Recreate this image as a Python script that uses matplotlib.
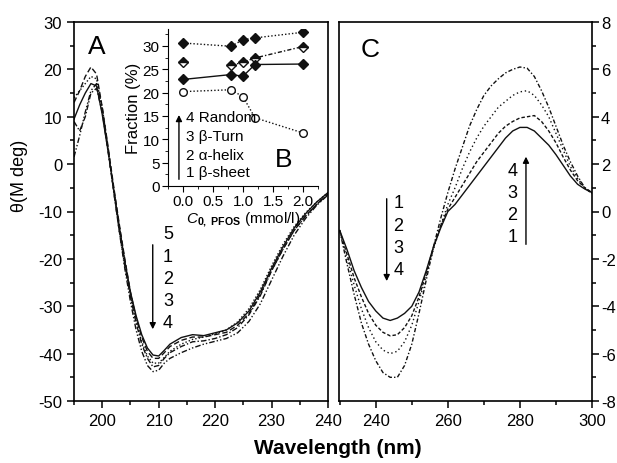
import matplotlib
matplotlib.use("Agg")
import matplotlib.pyplot as plt
from matplotlib.ticker import MultipleLocator

plt.rcParams['font.family'] = ['Liberation Sans', 'DejaVu Sans']
plt.rcParams['mathtext.fontset'] = 'custom'
plt.rcParams['mathtext.rm'] = 'Liberation Sans'
plt.rcParams['mathtext.it'] = 'Liberation Sans:italic'
plt.rcParams['mathtext.bf'] = 'Liberation Sans:bold'
plt.rcParams['axes.unicode_minus'] = False

# panel A: far-UV CD spectra
wl_a = [195, 196, 197, 198, 199, 200, 201, 202, 203, 204, 205, 206, 207, 208, 209, 210,
        211, 212, 214, 216, 218, 220, 222, 224, 226, 228, 230, 232, 234, 236, 238, 240]
a_5 = [9.5, 12.5, 15, 17, 16.5, 10.5, 3, -5, -13, -20.5, -27, -32, -36, -38.8, -40.3, -40.5,
       -39.3, -38, -36.6, -36, -36.2, -35.6, -35, -33.5, -31, -27, -22, -17.5, -13.5, -10.5, -8, -6]
a_1 = [13, 15.5, 18.5, 20.5, 19, 12, 4, -4.5, -12.5, -20, -27, -32.5, -36.5, -39.5, -41, -41,
       -39.8, -38.5, -37.2, -36.5, -36.5, -36, -35.5, -34, -31.5, -27.5, -22.5, -18, -14, -11, -8.5, -6.3]
a_2 = [14, 15.5, 17, 18.5, 18, 11.5, 3.5, -5, -13, -20.5, -27.5, -33, -37.5, -40.5, -42, -42,
       -40.8, -39.5, -38, -37, -36.5, -35.8, -35, -33.3, -30.5, -26.5, -21.5, -17, -13.2, -10.3, -8, -6]
a_3 = [9, 7, 10, 15, 16, 11, 3, -5.5, -14, -21.5, -28, -33.5, -38, -41, -42.8, -42.5,
       -41, -39.8, -38.5, -37.5, -37.3, -36.8, -36, -34.5, -31.8, -27.8, -22.5, -18, -14, -11, -8.5, -6.3]
a_4 = [1.5, 6, 11, 15.5, 17, 12, 3.5, -5.5, -14, -22, -29, -35, -39.5, -42.5, -43.8, -43.5,
       -42, -41, -39.8, -38.8, -38, -37.4, -36.8, -35.6, -33.2, -29.5, -24.5, -19.5, -15, -11.5, -8.7, -6.5]

# panel C: near-UV CD spectra
wl_c = [230, 232, 234, 236, 238, 240, 242, 244, 246, 248, 250, 252, 254, 256, 258, 260, 262, 264,
        266, 268, 270, 272, 274, 276, 278, 280, 282, 284, 286, 288, 290, 292, 294, 296, 298, 300]
c_1 = [-0.8, -1.6, -2.5, -3.2, -3.8, -4.2, -4.5, -4.6, -4.5, -4.3, -4.0, -3.4, -2.5, -1.5, -0.7, 0.0, 0.3, 0.7,
       1.1, 1.5, 1.9, 2.3, 2.7, 3.1, 3.4, 3.55, 3.55, 3.4, 3.1, 2.8, 2.4, 1.95, 1.5, 1.15, 0.95, 0.8]
c_2 = [-0.8, -1.8, -2.8, -3.6, -4.3, -4.8, -5.1, -5.25, -5.2, -4.9, -4.4, -3.6, -2.6, -1.5, -0.6, 0.1, 0.6, 1.1,
       1.6, 2.1, 2.5, 2.9, 3.3, 3.6, 3.8, 3.95, 4.0, 4.05, 3.8, 3.4, 2.9, 2.3, 1.75, 1.3, 1.0, 0.8]
c_3 = [-0.8, -2.0, -3.1, -4.1, -4.9, -5.5, -5.85, -6.0, -5.9, -5.5, -4.8, -3.8, -2.7, -1.6, -0.6, 0.3, 1.0, 1.8,
       2.5, 3.1, 3.6, 4.0, 4.4, 4.65, 4.9, 5.05, 5.1, 4.9, 4.5, 4.0, 3.3, 2.6, 1.9, 1.4, 1.0, 0.8]
c_4 = [-0.8, -2.2, -3.5, -4.7, -5.6, -6.3, -6.8, -7.0, -7.0, -6.5, -5.6, -4.3, -2.9, -1.5, -0.3, 0.8, 1.8, 2.7,
       3.6, 4.3, 4.9, 5.3, 5.6, 5.85, 6.0, 6.1, 6.05, 5.7, 5.1, 4.4, 3.6, 2.8, 2.1, 1.5, 1.0, 0.75]

# inset B: secondary structure fractions
conc = [0.0, 0.8, 1.0, 1.2, 2.0]
random_coil = [30.6, 29.9, 31.3, 31.7, 32.9]
beta_turn = [26.5, 25.8, 26.5, 27.4, 29.85]
alpha_helix = [22.8, 23.85, 23.5, 26.0, 26.1]
beta_sheet = [20.2, 20.6, 19.1, 14.6, 11.35]

fig = plt.figure(figsize=(6.17, 4.64), dpi=100)
W, H = 617.0, 464.0

axA = fig.add_axes([74 / W, 1 - 402 / H, 254 / W, 379 / H])
axC = fig.add_axes([339 / W, 1 - 402 / H, 253 / W, 379 / H])
axB = fig.add_axes([168 / W, 1 - 187 / H, 150 / W, 157 / H])

k = '#111111'
axA.plot(wl_a, a_5, color=k, lw=1.0, ls='-')
axA.plot(wl_a, a_1, color=k, lw=1.0, ls=(0, (4, 2)))
axA.plot(wl_a, a_2, color=k, lw=1.0, ls=(0, (1, 1.5)))
axA.plot(wl_a, a_3, color=k, lw=1.0, ls=(0, (4, 1.5, 1, 1.5)))
axA.plot(wl_a, a_4, color=k, lw=1.0, ls=(0, (4, 1.5, 1, 1.5, 1, 1.5)))

axC.plot(wl_c, c_1, color=k, lw=1.0, ls='-')
axC.plot(wl_c, c_2, color=k, lw=1.0, ls=(0, (2.5, 1.5)))
axC.plot(wl_c, c_3, color=k, lw=1.0, ls=(0, (1, 2)))
axC.plot(wl_c, c_4, color=k, lw=1.0, ls=(0, (3, 1.5, 1, 1.5)))

for ax in (axA, axC):
    for s in ax.spines.values():
        s.set_linewidth(1.2)
    ax.tick_params(which='both', direction='out', labelsize=12, width=1.1)
    ax.tick_params(which='major', length=5)
    ax.tick_params(which='minor', length=3)
    ax.xaxis.set_major_locator(MultipleLocator(10))
    ax.xaxis.set_minor_locator(MultipleLocator(5))

axA.set_xlim(195, 240)
axA.set_ylim(-50, 30)
axA.yaxis.set_major_locator(MultipleLocator(10))
axA.yaxis.set_minor_locator(MultipleLocator(5))
axA.tick_params(which='both', right=False, top=False)

axC.set_xlim(229.8, 300)
axC.set_ylim(-8, 8)
axC.xaxis.set_major_locator(MultipleLocator(20))
axC.xaxis.set_minor_locator(MultipleLocator(10))
axC.yaxis.set_major_locator(MultipleLocator(2))
axC.yaxis.set_minor_locator(MultipleLocator(1))
axC.yaxis.tick_right()
axC.tick_params(which='both', left=False, top=False)
axC.tick_params(axis='y', pad=1.5)

axA.text(0.089, 0.937, 'A', transform=axA.transAxes, fontsize=19, ha='center', va='center')
axC.text(0.1225, 0.929, 'C', transform=axC.transAxes, fontsize=19, ha='center', va='center')

arrow = dict(arrowstyle='-|>', color='black', lw=1.0, mutation_scale=9)
axA.annotate('', xy=(0.31, 0.182), xytext=(0.31, 0.4195), xycoords='axes fraction', arrowprops=arrow)
for lab, yy in zip(['5', '1', '2', '3', '4'], [0.441, 0.38, 0.322, 0.264, 0.206]):
    axA.text(0.37, yy, lab, transform=axA.transAxes, fontsize=13, ha='center', va='center')

axC.annotate('', xy=(0.1885, 0.309), xytext=(0.1885, 0.541), xycoords='axes fraction', arrowprops=arrow)
for lab, yy in zip(['1', '2', '3', '4'], [0.525, 0.462, 0.406, 0.348]):
    axC.text(0.234, yy, lab, transform=axC.transAxes, fontsize=13, ha='center', va='center')
axC.annotate('', xy=(0.739, 0.652), xytext=(0.739, 0.406), xycoords='axes fraction', arrowprops=arrow)
for lab, yy in zip(['4', '3', '2', '1'], [0.607, 0.551, 0.493, 0.435]):
    axC.text(0.686, yy, lab, transform=axC.transAxes, fontsize=13, ha='center', va='center')

# inset
axB.patch.set_alpha(0)
axB.plot(conc, random_coil, color=k, lw=1.0, ls=(0, (1, 1.5)), marker='D', ms=5.5, mfc=k, mec=k)
axB.plot(conc[:1], beta_turn[:1], ls='none', marker='D', ms=5.5, mfc=k, mec=k,
         fillstyle='top', markerfacecoloralt='white')
axB.plot(conc[1:], beta_turn[1:], color=k, lw=1.0, ls=(0, (3, 1.5, 1, 1.5)), marker='D', ms=5.5,
         mfc=k, mec=k, fillstyle='top', markerfacecoloralt='white')
axB.plot(conc, alpha_helix, color=k, lw=1.0, ls='-', marker='D', ms=5.5, mfc=k, mec=k)
axB.plot(conc, beta_sheet, color=k, lw=1.0, ls=(0, (1, 1.5)), marker='o', ms=5.5, mfc='white', mec=k)

axB.set_xlim(-0.25, 2.25)
axB.set_ylim(0, 33.6)
axB.spines['top'].set_visible(False)
axB.spines['right'].set_visible(False)
axB.xaxis.set_major_locator(MultipleLocator(0.5))
axB.xaxis.set_minor_locator(MultipleLocator(0.25))
axB.yaxis.set_major_locator(MultipleLocator(5))
axB.yaxis.set_minor_locator(MultipleLocator(2.5))
axB.tick_params(which='both', direction='out', labelsize=11, pad=2)
axB.tick_params(which='major', length=4)
axB.tick_params(which='minor', length=2)
axB.set_ylabel('Fraction (%)', fontsize=12, labelpad=1)
axB.set_xlabel(r'$C_{\mathbf{0,\ PFOS}}$ (mmol/l)', fontsize=11, labelpad=1)
axB.text(0.773, 0.172, 'B', transform=axB.transAxes, fontsize=19, ha='center', va='center')
for lab, yy in zip(['4 Random', '3 β-Turn', '2 α-helix', '1 β-sheet'], [0.44, 0.318, 0.197, 0.089]):
    axB.text(0.12, yy, lab, transform=axB.transAxes, fontsize=11, ha='left', va='center')
axB.annotate('', xy=(0.073, 0.47), xytext=(0.073, 0.025), xycoords='axes fraction', arrowprops=arrow)

fig.text(0.548, 0.034, 'Wavelength (nm)', fontsize=15, fontweight='bold', ha='center', va='center')
fig.text(0.031, 0.62, 'θ(M deg)', fontsize=13, rotation=90, ha='center', va='center')

fig.savefig('out.png', dpi=100)
